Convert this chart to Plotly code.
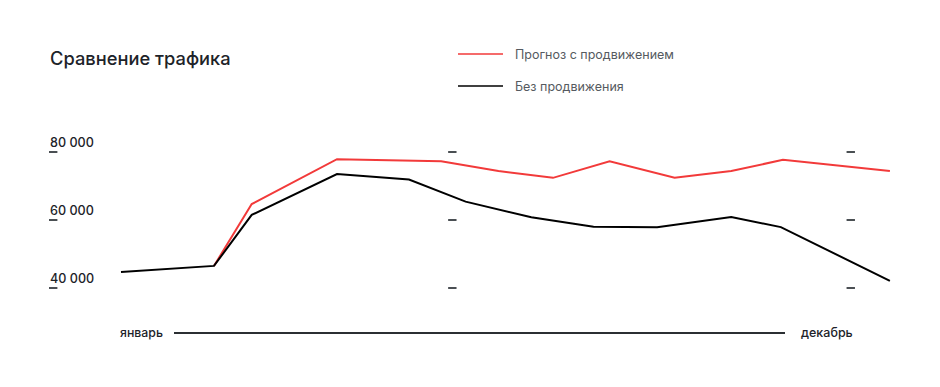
import plotly.graph_objects as go

# ---- data ----
# x positions in months from January (0) to December (11)
x_base = [0, 1.33, 1.87, 3.09, 4.12, 4.93, 5.87, 6.76, 7.67, 8.73, 9.44, 11]
y_base = [44700, 46500, 61500, 73500, 71900, 65400, 60800, 58000, 57900, 60900, 57900, 42100]

x_promo = [1.33, 1.87, 3.09, 4.58, 5.40, 6.18, 6.99, 7.92, 8.73, 9.47, 11]
y_promo = [46500, 64700, 77900, 77300, 74400, 72400, 77300, 72400, 74400, 77700, 74400]

y_ticks = [40000, 60000, 80000]
y_tick_labels = ["40 000", "60 000", "80 000"]
tick_cols = [-0.97, 4.74, 10.44]

title = "Сравнение трафика"
name_promo = "Прогноз с продвижением"
name_base = "Без продвижения"
month_start = "январь"
month_end = "декабрь"

FONT = "Inter"
DARK = "#1d2329"
RED = "#f23a3a"

OFF = 8  # page body margin
W, H = 932, 379


def px(p):
    return (p - OFF) / W


def py(p):
    return 1 - (p - OFF) / H


px_per_unit = 69.9
x0_px = 121 - OFF
xr = [(0 - x0_px) / px_per_unit, (W - x0_px) / px_per_unit]
v_per_px = 20000 / 68
y40 = 288 - OFF
yr = [40000 - (H - y40) * v_per_px, 40000 + y40 * v_per_px]

fig = go.Figure()

fig.add_trace(go.Scatter(x=x_promo, y=y_promo, mode="lines",
                         line=dict(color=RED, width=2), name=name_promo,
                         showlegend=False))
fig.add_trace(go.Scatter(x=x_base, y=y_base, mode="lines",
                         line=dict(color="#000000", width=2), name=name_base,
                         showlegend=False))

# tick dashes
tx, ty = [], []
for c in tick_cols:
    for v in y_ticks:
        tx.append(c)
        ty.append(v)
fig.add_trace(go.Scatter(x=tx, y=ty, mode="markers", hoverinfo="skip",
                         marker=dict(symbol="line-ew", size=6,
                                     line=dict(color=DARK, width=1.6)),
                         showlegend=False))

annotations = []
for v, lab in zip(y_ticks, y_tick_labels):
    annotations.append(dict(x=(48 - 121) / px_per_unit, y=v, xref="x", yref="y",
                            text=lab, showarrow=False, xanchor="left", yanchor="middle",
                            yshift=10, font=dict(family=FONT, size=12.6, color=DARK, weight=500)))

annotations.append(dict(x=px(48), y=py(58), xref="paper", yref="paper",
                        text=title, showarrow=False, xanchor="left", yanchor="middle",
                        font=dict(family=FONT, size=18.3, color=DARK, weight=500)))

# legend (manual)
shapes = []
for yy, col, name in [(54, RED, name_promo), (86, "#000000", name_base)]:
    shapes.append(dict(type="line", xref="paper", yref="paper",
                       x0=px(458), x1=px(503), y0=py(yy), y1=py(yy),
                       line=dict(color=col, width=1.5)))
    annotations.append(dict(x=px(513), y=py(yy), xref="paper", yref="paper",
                            text=name, showarrow=False, xanchor="left", yanchor="middle",
                            font=dict(family=FONT, size=12.5, color="#555a60")))

# x axis line and month labels
shapes.append(dict(type="line", xref="paper", yref="paper",
                   x0=px(174), x1=px(785), y0=py(333), y1=py(333),
                   line=dict(color="#2b2f33", width=1.8)))
annotations.append(dict(x=px(118), y=py(332), xref="paper", yref="paper",
                        text=month_start, showarrow=False, xanchor="left", yanchor="middle",
                        font=dict(family=FONT, size=12.3, color=DARK, weight=500)))
annotations.append(dict(x=px(799), y=py(332), xref="paper", yref="paper",
                        text=month_end, showarrow=False, xanchor="left", yanchor="middle",
                        font=dict(family=FONT, size=12.5, color=DARK, weight=500)))

fig.update_layout(
    width=W, height=H,
    margin=dict(l=0, r=0, t=0, b=0),
    paper_bgcolor="white", plot_bgcolor="white",
    xaxis=dict(range=xr, visible=False, fixedrange=True),
    yaxis=dict(range=yr, visible=False, fixedrange=True),
    annotations=annotations, shapes=shapes,
    showlegend=False,
)

fig.write_html("out.html")
